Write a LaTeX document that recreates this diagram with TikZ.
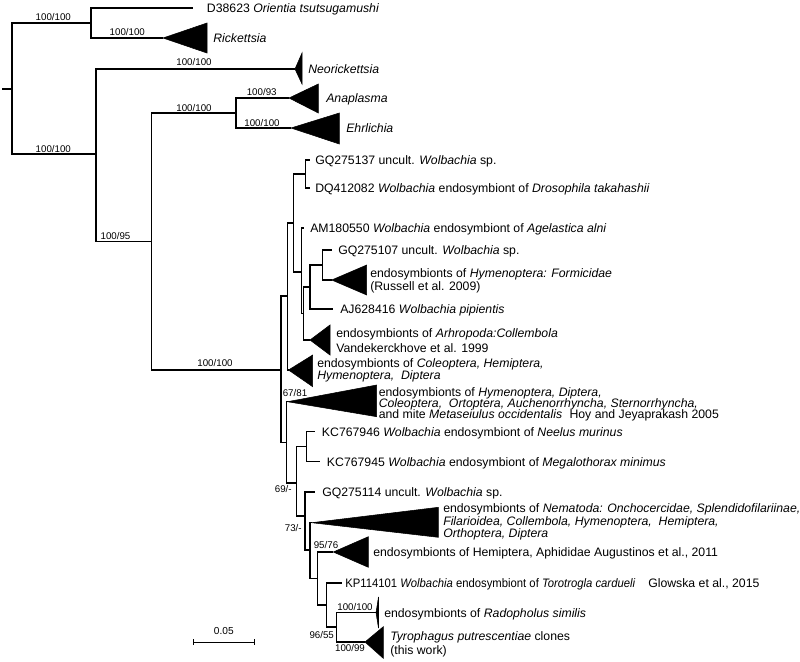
\documentclass[tikz,border=0pt]{standalone}
\usepackage{fontspec}
\setmainfont{Liberation Sans}
\begin{document}
\begin{tikzpicture}[x=0.75pt,y=-0.75pt,
 br/.style={line width=1pt},
 clade/.style={fill=black, draw=black, line width=0.4pt, line join=miter},
 leaf/.style={anchor=base west, inner sep=0pt, yshift=-3.3pt, font=\fontsize{9.2}{11}\selectfont},
 sup/.style={anchor=base, inner sep=0pt, yshift=-2.6pt, font=\fontsize{7.3}{9}\selectfont}]
\useasboundingbox (0,0) rectangle (800,661);
% internal nodes
\coordinate (stub) at (2,89);
\coordinate (root) at (12,89);
\coordinate (n1) at (91,23);
\coordinate (n2) at (96,154);
\coordinate (n3) at (151.7,241.5);
\coordinate (n4) at (236,113);
\coordinate (W) at (281,370);
\coordinate (A) at (287.5,296);
\coordinate (B) at (293.3,223);
\coordinate (C) at (305.7,174);
\coordinate (D) at (301.7,272);
\coordinate (E) at (303.3,313.5);
\coordinate (F) at (310,287);
\coordinate (G) at (322.7,265);
\coordinate (I) at (286.7,442.5);
\coordinate (J) at (296.5,483);
\coordinate (L) at (306.7,446.7);
\coordinate (K) at (305,516);
\coordinate (Q) at (310,550);
\coordinate (P) at (317.3,578.3);
\coordinate (O) at (326.7,605);
\coordinate (N) at (336.7,627);
% tips and clade apices
\coordinate (tOri) at (193,8);
\coordinate (aRic) at (163,38);
\coordinate (aNeo) at (295,69);
\coordinate (aAna) at (289,98);
\coordinate (aEhr) at (291,128);
\coordinate (tGQ37) at (310,160);
\coordinate (tDQ) at (310,188);
\coordinate (tAM) at (304,228);
\coordinate (tGQ07) at (331.7,250);
\coordinate (aFor) at (331.7,280);
\coordinate (tAJ) at (333.3,309);
\coordinate (aCol) at (310,340);
\coordinate (aCole) at (288.5,370);
\coordinate (aBig) at (287.5,401.7);
\coordinate (tKC46) at (315,431.7);
\coordinate (tKC45) at (320,461.7);
\coordinate (tGQ14) at (315,492);
\coordinate (aNem) at (311.7,522.7);
\coordinate (aHem) at (333.3,552);
\coordinate (tKP) at (341.7,583);
\coordinate (aRad) at (376,612.7);
\coordinate (aTyr) at (365,642);
% branches
\draw[br] (stub) -- (root);
\draw[br] (root) |- (n1);
\draw[br] (root) |- (n2);
\draw[br] (n1) |- (tOri);
\draw[br] (n1) |- (aRic);
\draw[br] (n2) |- (aNeo);
\draw[br] (n2) |- (n3);
\draw[br] (n3) |- (n4);
\draw[br] (n3) |- (W);
\draw[br] (n4) |- (aAna);
\draw[br] (n4) |- (aEhr);
\draw[br] (W) |- (A);
\draw[br] (W) |- (I);
\draw[br] (A) |- (B);
\draw[br] (A) |- (aCole);
\draw[br] (B) |- (C);
\draw[br] (B) |- (D);
\draw[br] (C) |- (tGQ37);
\draw[br] (C) |- (tDQ);
\draw[br] (D) |- (tAM);
\draw[br] (D) |- (E);
\draw[br] (E) |- (F);
\draw[br] (E) |- (aCol);
\draw[br] (F) |- (G);
\draw[br] (F) |- (tAJ);
\draw[br] (G) |- (tGQ07);
\draw[br] (G) |- (aFor);
\draw[br] (I) |- (aBig);
\draw[br] (I) |- (J);
\draw[br] (J) |- (L);
\draw[br] (J) |- (K);
\draw[br] (L) |- (tKC46);
\draw[br] (L) |- (tKC45);
\draw[br] (K) |- (tGQ14);
\draw[br] (K) |- (Q);
\draw[br] (Q) |- (aNem);
\draw[br] (Q) |- (P);
\draw[br] (P) |- (aHem);
\draw[br] (P) |- (O);
\draw[br] (O) |- (tKP);
\draw[br] (O) |- (N);
\draw[br] (N) |- (aRad);
\draw[br] (N) |- (aTyr);
% collapsed clades
\fill[clade] (aRic) -- (207,23) -- (207,53) -- cycle;
\fill[clade] (aNeo) -- (302,53) -- (302,84) -- cycle;
\fill[clade] (aAna) -- (318.3,84) -- (318.3,113) -- cycle;
\fill[clade] (aEhr) -- (339.3,113) -- (339.3,144) -- cycle;
\fill[clade] (aFor) -- (366.7,265) -- (366.7,295) -- cycle;
\fill[clade] (aCol) -- (330,325) -- (330,355) -- cycle;
\fill[clade] (aCole) -- (312.7,355) -- (312.7,386.7) -- cycle;
\fill[clade] (aBig) -- (376.7,385) -- (376.7,416.7) -- cycle;
\fill[clade] (aNem) -- (438.3,507.3) -- (438.3,537.3) -- cycle;
\fill[clade] (aHem) -- (368.3,536.7) -- (368.3,567.3) -- cycle;
\fill[clade] (aRad) -- (378.5,597) -- (378.5,628) -- cycle;
\fill[clade] (aTyr) -- (383.3,626.7) -- (383.3,658.3) -- cycle;
% leaf labels
\node[leaf] (lOri) at (206.7,8) {D38623 \textit{Orientia tsutsugamushi}};
\node[leaf] (lRic) at (213,38) {\textit{Rickettsia}};
\node[leaf] (lNeo) at (308,69) {\textit{Neorickettsia}};
\node[leaf] (lAna) at (326,98) {\textit{Anaplasma}};
\node[leaf] (lEhr) at (346,128) {\textit{Ehrlichia}};
\node[leaf] (lGQ37) at (315,160) {GQ275137 uncult. \textit{Wolbachia} sp.};
\node[leaf] (lDQ) at (315,188) {DQ412082 \textit{Wolbachia} endosymbiont of \textit{Drosophila takahashii}};
\node[leaf] (lAM) at (310,228) {AM180550 \textit{Wolbachia} endosymbiont of \textit{Agelastica alni}};
\node[leaf] (lGQ07) at (338,250) {GQ275107 uncult. \textit{Wolbachia} sp.};
\node[leaf] (lFor1) at (370,273.5) {endosymbionts of \textit{Hymenoptera: Formicidae}};
\node[leaf] (lFor2) at (370,286) {(Russell et al. 2009)};
\node[leaf] (lAJ) at (340,309) {AJ628416 \textit{Wolbachia pipientis}};
\node[leaf] (lCol1) at (336,333) {endosymbionts of \textit{Arhropoda:Collembola}};
\node[leaf] (lCol2) at (336,348.3) {Vandekerckhove et al. 1999};
\node[leaf] (lCole1) at (317,363.3) {endosymbionts of \textit{Coleoptera, Hemiptera,}};
\node[leaf] (lCole2) at (317,375.5) {\textit{Hymenoptera,\ \ Diptera}};
\node[leaf] (lBig1) at (378.5,391.7) {endosymbionts of \textit{Hymenoptera, Diptera,}};
\node[leaf] (lBig2) at (378.5,403.3) {\textit{Coleoptera,\ \ Ortoptera, Auchenorrhyncha, Sternorrhyncha,}};
\node[leaf] (lBig3) at (378.5,414.5) {and mite \textit{Metaseiulus occidentalis}};
\node[leaf] (lBig4) at (569.3,414.5) {Hoy and Jeyaprakash 2005};
\node[leaf] (lKC46) at (321.7,431.7) {KC767946 \textit{Wolbachia} endosymbiont of \textit{Neelus murinus}};
\node[leaf] (lKC45) at (326.7,461.7) {KC767945 \textit{Wolbachia} endosymbiont of \textit{Megalothorax minimus}};
\node[leaf] (lGQ14) at (322,492) {GQ275114 uncult. \textit{Wolbachia} sp.};
\node[leaf] (lNem1) at (443,508.3) {endosymbionts of \textit{Nematoda: Onchocercidae, Splendidofilariinae,}};
\node[leaf] (lNem2) at (443,521) {\textit{Filarioidea, Collembola, Hymenoptera,\ \ Hemiptera,}};
\node[leaf] (lNem3) at (443,533.3) {\textit{Orthoptera, Diptera}};
\node[leaf] (lHem) at (373,552) {endosymbionts of Hemiptera, Aphididae Augustinos et al., 2011};
\node[leaf] (lKP) at (345,583) {\scalebox{0.92}[1]{KP114101 \textit{Wolbachia} endosymbiont of \textit{Torotrogla cardueli}}};
\node[leaf] (lKP2) at (648,583) {Glowska et al., 2015};
\node[leaf] (lRad) at (384,612.7) {endosymbionts of \textit{Radopholus similis}};
\node[leaf] (lTyr1) at (390,636) {\textit{Tyrophagus putrescentiae} clones};
\node[leaf] (lTyr2) at (390,650) {(this work)};
% support values
\node[sup] (s1) at (53.3,16.7) {100/100};
\node[sup] (s2) at (127.3,32.3) {100/100};
\node[sup] (s3) at (53.3,149) {100/100};
\node[sup] (s4) at (194,62.3) {100/100};
\node[sup] (s5) at (194,107.7) {100/100};
\node[sup] (s6) at (261.7,92.3) {100/93};
\node[sup] (s7) at (262,122.7) {100/100};
\node[sup] (s8) at (115.5,236) {100/95};
\node[sup] (s9) at (215,363) {100/100};
\node[sup] (s10) at (295,393.3) {67/81};
\node[sup] (s11) at (283.3,489) {69/-};
\node[sup] (s12) at (293.3,528.3) {73/-};
\node[sup] (s13) at (326,545) {95/76};
\node[sup] (s14) at (321.7,635) {96/55};
\node[sup] (s15) at (355,606.7) {100/100};
\node[sup] (s16) at (350,648.3) {100/99};
% scale bar
\coordinate (sbL) at (193.3,642.3);
\coordinate (sbR) at (254.3,642.3);
\draw[br] (sbL) -- (sbR);
\draw[br] ([yshift=2.2pt]sbL) -- ([yshift=-2.2pt]sbL);
\draw[br] ([yshift=2.2pt]sbR) -- ([yshift=-2.2pt]sbR);
\node[sup, font=\fontsize{7.6}{9}\selectfont] (sbT) at (223.8,631) {0.05};
\end{tikzpicture}
\end{document}
